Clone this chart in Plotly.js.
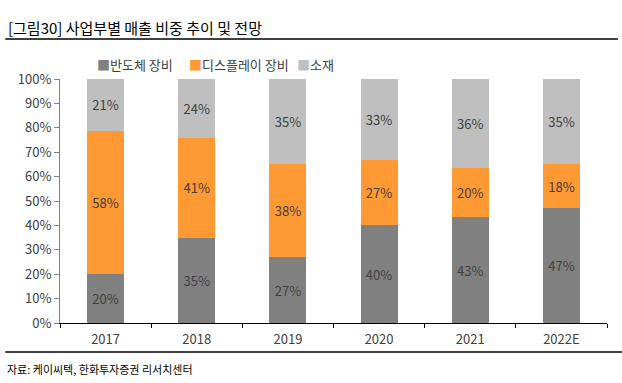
<!DOCTYPE html>
<html>
<head>
<meta charset="utf-8">
<script src="https://cdn.plot.ly/plotly-3.0.1.min.js"></script>
<style>html,body{margin:0;padding:0;background:#fff;}#chart{width:622px;height:383px;}</style>
</head>
<body>
<div id="chart"></div>
<script>
const categories = ['2017', '2018', '2019', '2020', '2021', '2022E'];
const semiconductor = [20, 35, 27, 40, 43, 47];
const display = [58, 41, 38, 27, 20, 18];
const materials = [21, 24, 35, 33, 36, 35];
const seriesNames = ['반도체 장비', '디스플레이 장비', '소재'];
const yTicks = [0, 10, 20, 30, 40, 50, 60, 70, 80, 90, 100];

const FONT = '"Noto Sans CJK KR", "Noto Sans", sans-serif';
const colors = ['#808080', '#FF9933', '#BFBFBF'];
const legendX = [0.064, 0.232, 0.43];
const series = [semiconductor, display, materials];

const traces = series.map((vals, i) => ({
  type: 'bar',
  name: seriesNames[i],
  x: categories,
  y: vals,
  text: vals.map(v => v + '%'),
  textposition: 'inside',
  insidetextanchor: 'middle',
  constraintext: 'none',
  textfont: {family: FONT, size: 13, color: '#404040'},
  hoverinfo: 'skip',
  showlegend: false,
  marker: {color: colors[i], line: {width: 0}}
}));

const legendAnnotations = seriesNames.map((name, i) => ({
  text: '<span style="color:' + colors[i] + '">■</span>' + name,
  xref: 'paper', yref: 'paper', x: legendX[i], y: 1.058,
  xanchor: 'left', yanchor: 'middle', showarrow: false,
  font: {family: FONT, size: 13, color: '#404040'}
}));

const layout = {
  width: 622, height: 383,
  margin: {l: 60, r: 15, t: 79, b: 60},
  paper_bgcolor: '#fff', plot_bgcolor: '#fff',
  font: {family: FONT, size: 13, color: '#404040'},
  barmode: 'stack',
  barnorm: 'percent',
  bargap: 0.595,
  showlegend: false,
  xaxis: {
    type: 'category',
    showgrid: false, zeroline: false,
    showline: true, linecolor: '#000', linewidth: 1,
    ticks: 'outside', tickson: 'boundaries', ticklen: 4, tickcolor: '#000',
    ticklabelstandoff: 4,
    tickfont: {family: FONT, size: 13, color: '#404040'},
    fixedrange: true
  },
  yaxis: {
    range: [0, 100],
    tickvals: yTicks,
    ticktext: yTicks.map(v => v + '%'),
    showgrid: false, zeroline: false,
    showline: true, linecolor: '#808080', linewidth: 1,
    ticks: 'outside', ticklen: 5, tickcolor: '#808080',
    tickfont: {family: FONT, size: 13, color: '#404040'},
    fixedrange: true
  },
  annotations: [
    {text: '[그림30] 사업부별 매출 비중 추이 및 전망', xref: 'paper', yref: 'paper',
     x: -0.099, y: 1.21, xanchor: 'left', yanchor: 'middle', showarrow: false,
     font: {family: FONT, size: 15, color: '#000'}},
    {text: '자료: 케이씨텍, 한화투자증권 리서치센터', xref: 'paper', yref: 'paper',
     x: -0.1, y: -0.19, xanchor: 'left', yanchor: 'middle', showarrow: false,
     font: {family: FONT, size: 11, color: '#000'}}
  ].concat(legendAnnotations),
  shapes: [
    {type: 'line', xref: 'paper', yref: 'paper', x0: -0.1, x1: 1.02, y0: 1.164, y1: 1.164,
     line: {color: '#000', width: 1.5}},
    {type: 'line', xref: 'paper', yref: 'paper', x0: -0.1, x1: 1.03, y0: -0.119, y1: -0.119,
     line: {color: '#000', width: 1.5}}
  ]
};

Plotly.newPlot('chart', traces, layout, {displayModeBar: false, staticPlot: true});
</script>
</body>
</html>
